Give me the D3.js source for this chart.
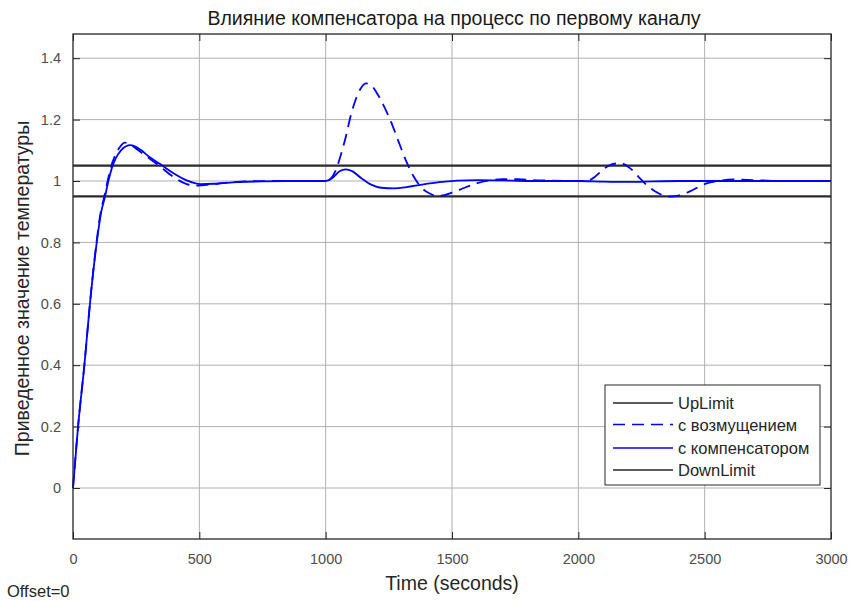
<!DOCTYPE html>
<html>
<head>
<meta charset="utf-8">
<script src="https://cdn.jsdelivr.net/npm/d3@7"></script>
<style>
  body { margin: 0; background: #fff; }
  svg { display: block; font-family: "Liberation Sans", Arial, sans-serif; }
</style>
</head>
<body>
<div id="chart"></div>
<script>
// время, с
var xTicks = [0, 500, 1000, 1500, 2000, 2500, 3000];
var yTicks = [0, 0.2, 0.4, 0.6, 0.8, 1, 1.2, 1.4];

var upLimit = 1.05;
var downLimit = 0.95;

// с возмущением (dashed)
var distTime = [0, 20, 45, 67, 93, 110, 124, 137, 150, 165, 185, 205, 225, 250, 275, 300, 345, 396, 450, 490, 540, 600, 700, 800,
  1000, 1020, 1040, 1060, 1080, 1100, 1120, 1140, 1160, 1180, 1200, 1230, 1260, 1290, 1320, 1350, 1380, 1410, 1440, 1470, 1500,
  1550, 1600, 1650, 1700, 1760, 1820, 1900, 2000, 2040, 2066, 2095, 2125, 2165, 2204, 2240, 2270, 2300, 2330, 2362, 2400, 2441,
  2475, 2507, 2560, 2612, 2693, 2800, 3000];
var distValue = [0, 0.2, 0.4, 0.6, 0.8, 0.9, 0.95, 1.0, 1.045, 1.08, 1.11, 1.125, 1.12, 1.105, 1.09, 1.075, 1.047, 1.014, 0.99, 0.985, 0.988, 0.994, 0.999, 1.0,
  1.0, 1.008, 1.035, 1.085, 1.145, 1.215, 1.268, 1.303, 1.318, 1.312, 1.29, 1.245, 1.19, 1.125, 1.062, 1.012, 0.978, 0.96, 0.952, 0.954, 0.962,
  0.978, 0.993, 1.002, 1.006, 1.006, 1.003, 1.001, 1.0, 1.002, 1.014, 1.035, 1.052, 1.058, 1.042, 1.012, 0.987, 0.968, 0.955, 0.949, 0.953, 0.966,
  0.98, 0.992, 1.001, 1.005, 1.003, 1.0, 1.0];

// с компенсатором (solid)
var compTime = [0, 20, 45, 67, 94, 112, 127, 140, 153, 170, 190, 210, 225, 245, 270, 300, 345, 396, 450, 505, 560, 650, 750, 850,
  1000, 1030, 1055, 1080, 1105, 1140, 1180, 1220, 1270, 1320, 1380, 1450, 1520, 1600, 1700, 1800, 2000, 2100, 2200, 2300, 2400, 3000];
var compValue = [0, 0.2, 0.4, 0.6, 0.8, 0.9, 0.95, 1.0, 1.04, 1.075, 1.1, 1.113, 1.117, 1.113, 1.1, 1.08, 1.055, 1.026, 1.002, 0.99, 0.991, 0.996, 0.999, 1.0,
  1.0, 1.012, 1.032, 1.038, 1.032, 1.01, 0.988, 0.978, 0.976, 0.98, 0.988, 0.996, 1.001, 1.003, 1.002, 1.0, 1.0, 0.998, 0.997, 0.999, 1.0, 1.0];

var legendLabels = ["UpLimit", "с возмущением", "с компенсатором", "DownLimit"];

var width = 852, height = 601;
var margin = { top: 34, right: 21, bottom: 62, left: 73 };
var w = width - margin.left - margin.right,
    h = height - margin.top - margin.bottom;

var svg = d3.select("#chart").append("svg")
  .attr("width", width)
  .attr("height", height);

svg.append("rect").attr("width", width).attr("height", height).attr("fill", "#fff");

var g = svg.append("g").attr("transform", "translate(" + margin.left + "," + margin.top + ")");

var x = d3.scaleLinear().domain([0, 3000]).range([0, w]);
var y = d3.scaleLinear().domain([-0.1661, 1.4788]).range([h, 0]);

// grid
g.append("g").selectAll("line")
  .data(xTicks.slice(1, -1))
  .enter().append("line")
  .attr("x1", function (d) { return x(d); })
  .attr("x2", function (d) { return x(d); })
  .attr("y1", 0).attr("y2", h)
  .attr("stroke", "#b0b0b0").attr("stroke-width", 1);

g.append("g").selectAll("line")
  .data(yTicks)
  .enter().append("line")
  .attr("y1", function (d) { return y(d); })
  .attr("y2", function (d) { return y(d); })
  .attr("x1", 0).attr("x2", w)
  .attr("stroke", "#b0b0b0").attr("stroke-width", 1);

// axes
var tickLen = 7;
g.append("g")
  .attr("class", "x axis")
  .attr("transform", "translate(0," + h + ")")
  .call(d3.axisBottom(x).tickValues(xTicks).tickSize(-tickLen).tickPadding(15).tickFormat(d3.format("d")));

g.append("g")
  .attr("class", "y axis")
  .call(d3.axisLeft(y).tickValues(yTicks).tickSize(-tickLen).tickPadding(12).tickFormat(function (d) { return d3.format("")(d); }));

g.append("g")
  .attr("transform", "translate(0,0)")
  .call(d3.axisTop(x).tickValues(xTicks).tickSize(-tickLen).tickFormat(""));

g.append("g")
  .attr("transform", "translate(" + w + ",0)")
  .call(d3.axisRight(y).tickValues(yTicks).tickSize(-tickLen).tickFormat(""));

g.selectAll(".domain").remove();
g.selectAll(".tick line").attr("stroke", "#262626");
g.selectAll(".tick text").attr("fill", "#4d4d4d").style("font-size", "14.5px");

// limits
[upLimit, downLimit].forEach(function (v) {
  g.append("line")
    .attr("x1", 0).attr("x2", w)
    .attr("y1", y(v)).attr("y2", y(v))
    .attr("stroke", "#2a2a2a").attr("stroke-width", 2.2);
});

var lineDist = d3.line()
  .x(function (d, i) { return x(distTime[i]); })
  .y(function (d) { return y(d); })
  .curve(d3.curveMonotoneX);

var lineComp = d3.line()
  .x(function (d, i) { return x(compTime[i]); })
  .y(function (d) { return y(d); })
  .curve(d3.curveMonotoneX);

g.append("path")
  .datum(distValue)
  .attr("d", lineDist)
  .attr("fill", "none")
  .attr("stroke", "#0000ff")
  .attr("stroke-width", 1.8)
  .attr("stroke-dasharray", "12,7");

g.append("path")
  .datum(compValue)
  .attr("d", lineComp)
  .attr("fill", "none")
  .attr("stroke", "#0000ff")
  .attr("stroke-width", 1.8);

// box
g.append("rect")
  .attr("width", w).attr("height", h)
  .attr("fill", "none")
  .attr("stroke", "#262626")
  .attr("stroke-width", 1.3);

// legend
var lg = svg.append("g").attr("transform", "translate(605,385)");
lg.append("rect")
  .attr("width", 215).attr("height", 100)
  .attr("fill", "#fff").attr("stroke", "#262626").attr("stroke-width", 1);

var legendStyle = [
  { color: "#262626", dash: null },
  { color: "#0000ff", dash: "12,7" },
  { color: "#0000ff", dash: null },
  { color: "#262626", dash: null }
];
var rowY = [18, 39.5, 63, 85];
legendLabels.forEach(function (lab, i) {
  lg.append("line")
    .attr("x1", 8).attr("x2", 68)
    .attr("y1", rowY[i]).attr("y2", rowY[i])
    .attr("stroke", legendStyle[i].color)
    .attr("stroke-width", 1.5)
    .attr("stroke-dasharray", legendStyle[i].dash);
  lg.append("text")
    .attr("x", 73).attr("y", rowY[i] + 6)
    .attr("fill", "#262626")
    .style("font-size", "16.5px")
    .text(lab);
});

// titles
svg.append("text")
  .attr("x", margin.left + w / 2 + 2).attr("y", 25)
  .attr("text-anchor", "middle")
  .attr("fill", "#1a1a1a")
  .style("font-size", "19.5px")
  .text("Влияние компенсатора на процесс по первому каналу");

svg.append("text")
  .attr("x", margin.left + w / 2).attr("y", 590)
  .attr("text-anchor", "middle")
  .attr("fill", "#262626")
  .style("font-size", "19.5px")
  .text("Time (seconds)");

svg.append("text")
  .attr("transform", "translate(29," + (margin.top + h / 2 + 2) + ") rotate(-90)")
  .attr("text-anchor", "middle")
  .attr("fill", "#262626")
  .style("font-size", "19.5px")
  .text("Приведенное значение температуры");

svg.append("text")
  .attr("x", 7).attr("y", 597)
  .attr("fill", "#262626")
  .style("font-size", "16.5px")
  .text("Offset=0");
</script>
</body>
</html>
